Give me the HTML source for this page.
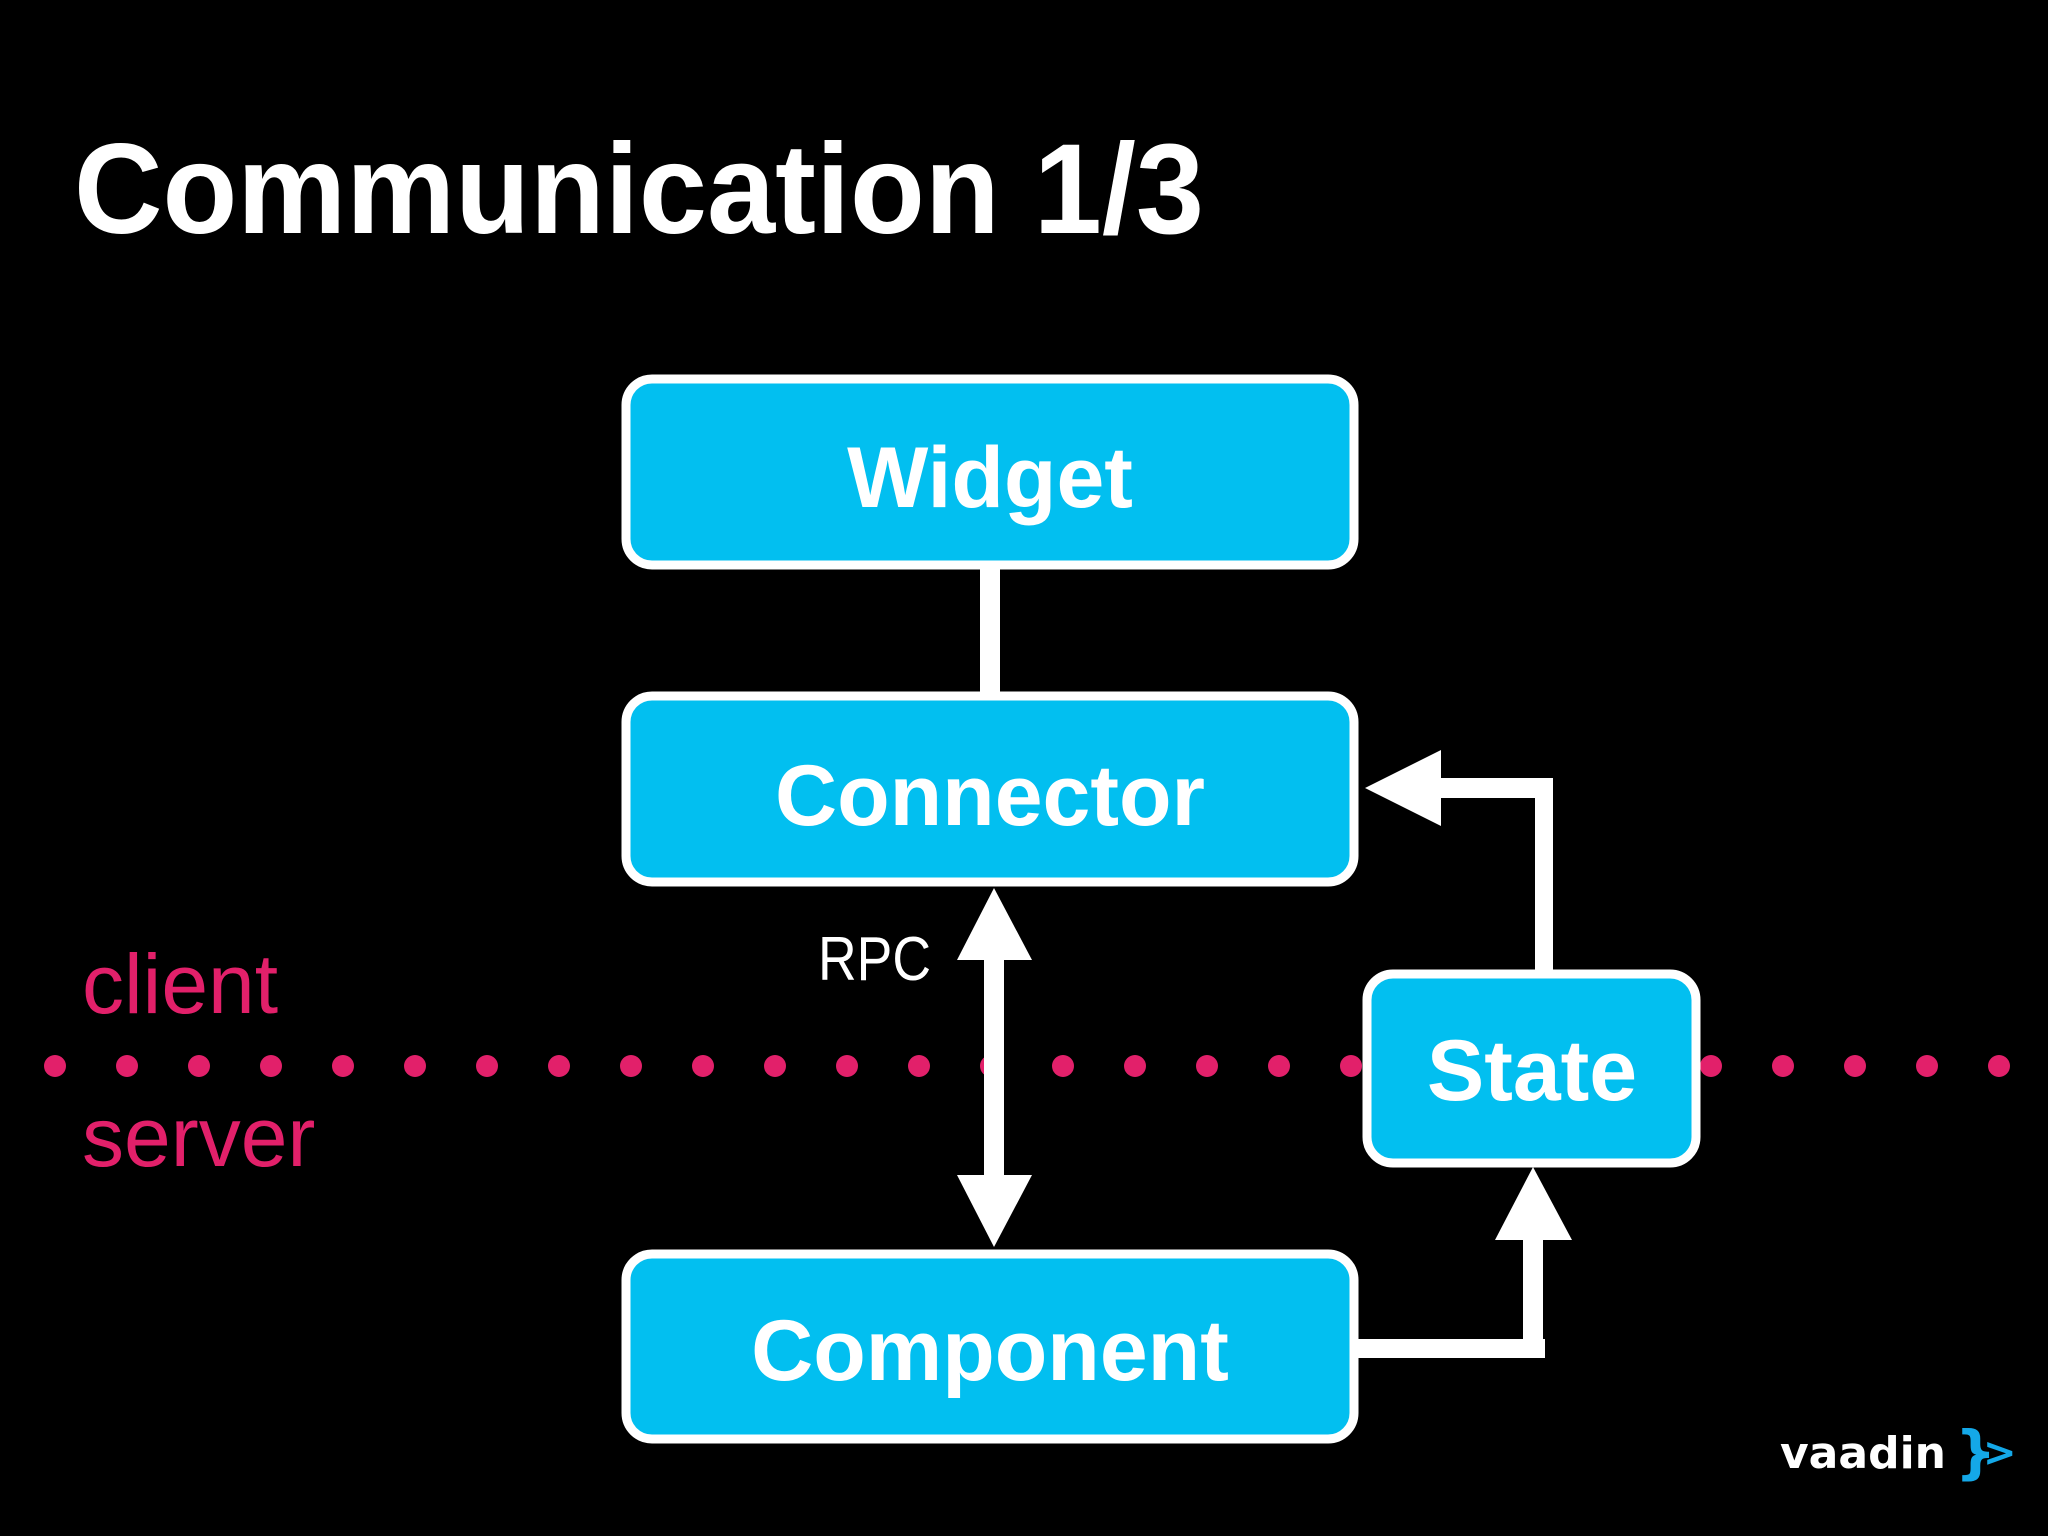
<!DOCTYPE html>
<html><head><style>
body{margin:0;background:#000;}
svg{display:block}
</style></head><body>
<svg width="2048" height="1536" viewBox="0 0 2048 1536" xmlns="http://www.w3.org/2000/svg">
<rect width="2048" height="1536" fill="#000"/>
<text x="74" y="233" font-family="Liberation Sans, sans-serif" font-weight="bold" font-size="128" fill="#fff" textLength="1130" lengthAdjust="spacingAndGlyphs">Communication 1/3</text>
<g fill="#e2206a">
<circle cx="55" cy="1066" r="11"/><circle cx="127" cy="1066" r="11"/><circle cx="199" cy="1066" r="11"/><circle cx="271" cy="1066" r="11"/><circle cx="343" cy="1066" r="11"/><circle cx="415" cy="1066" r="11"/><circle cx="487" cy="1066" r="11"/><circle cx="559" cy="1066" r="11"/><circle cx="631" cy="1066" r="11"/><circle cx="703" cy="1066" r="11"/><circle cx="775" cy="1066" r="11"/><circle cx="847" cy="1066" r="11"/><circle cx="919" cy="1066" r="11"/><circle cx="991" cy="1066" r="11"/><circle cx="1063" cy="1066" r="11"/><circle cx="1135" cy="1066" r="11"/><circle cx="1207" cy="1066" r="11"/><circle cx="1279" cy="1066" r="11"/><circle cx="1351" cy="1066" r="11"/><circle cx="1711" cy="1066" r="11"/><circle cx="1783" cy="1066" r="11"/><circle cx="1855" cy="1066" r="11"/><circle cx="1927" cy="1066" r="11"/><circle cx="1999" cy="1066" r="11"/>
</g>
<text x="82" y="1013" font-family="Liberation Sans, sans-serif" font-size="84" fill="#e2206a">client</text>
<text x="82" y="1166" font-family="Liberation Sans, sans-serif" font-size="84" fill="#e2206a">server</text>
<text x="818" y="980" font-family="Liberation Sans, sans-serif" font-size="62" fill="#fff" textLength="113" lengthAdjust="spacingAndGlyphs">RPC</text>
<!-- connectors -->
<rect x="980" y="565" width="20" height="132" fill="#fff"/>
<rect x="984" y="955" width="20" height="225" fill="#fff"/>
<polygon points="994,888 957,960 1032,960" fill="#fff"/>
<polygon points="994,1247 957,1175 1032,1175" fill="#fff"/>
<rect x="1535" y="778" width="18" height="196" fill="#fff"/>
<rect x="1438" y="778" width="115" height="20" fill="#fff"/>
<polygon points="1365,788 1441,750 1441,826" fill="#fff"/>
<rect x="1355" y="1339" width="190" height="19" fill="#fff"/>
<rect x="1523" y="1236" width="20" height="122" fill="#fff"/>
<polygon points="1533,1167 1495,1240 1572,1240" fill="#fff"/>
<!-- boxes -->
<g fill="#02bff0" stroke="#fff" stroke-width="9">
<rect x="626" y="379" width="728" height="186" rx="26"/>
<rect x="626" y="696" width="728" height="186" rx="26"/>
<rect x="626" y="1254" width="728" height="185" rx="26"/>
<rect x="1367" y="974" width="329" height="189" rx="26"/>
</g>
<g font-family="Liberation Sans, sans-serif" font-weight="bold" font-size="86" fill="#fff" text-anchor="middle">
<text x="990" y="507">Widget</text>
<text x="990" y="825">Connector</text>
<text x="990" y="1380">Component</text>
<text x="1532" y="1100">State</text>
</g>
<text x="1780" y="1468" font-family="DejaVu Sans, sans-serif" font-weight="bold" font-size="44" fill="#fff" textLength="166" lengthAdjust="spacingAndGlyphs">vaadin</text>
<text x="1955" y="1472" font-family="DejaVu Sans, sans-serif" font-weight="bold" font-size="58" fill="#14a8e8">}</text>
<text x="1983" y="1466" font-family="DejaVu Sans, sans-serif" font-weight="bold" font-size="40" fill="#14a8e8">&gt;</text>
</svg>
</body></html>
